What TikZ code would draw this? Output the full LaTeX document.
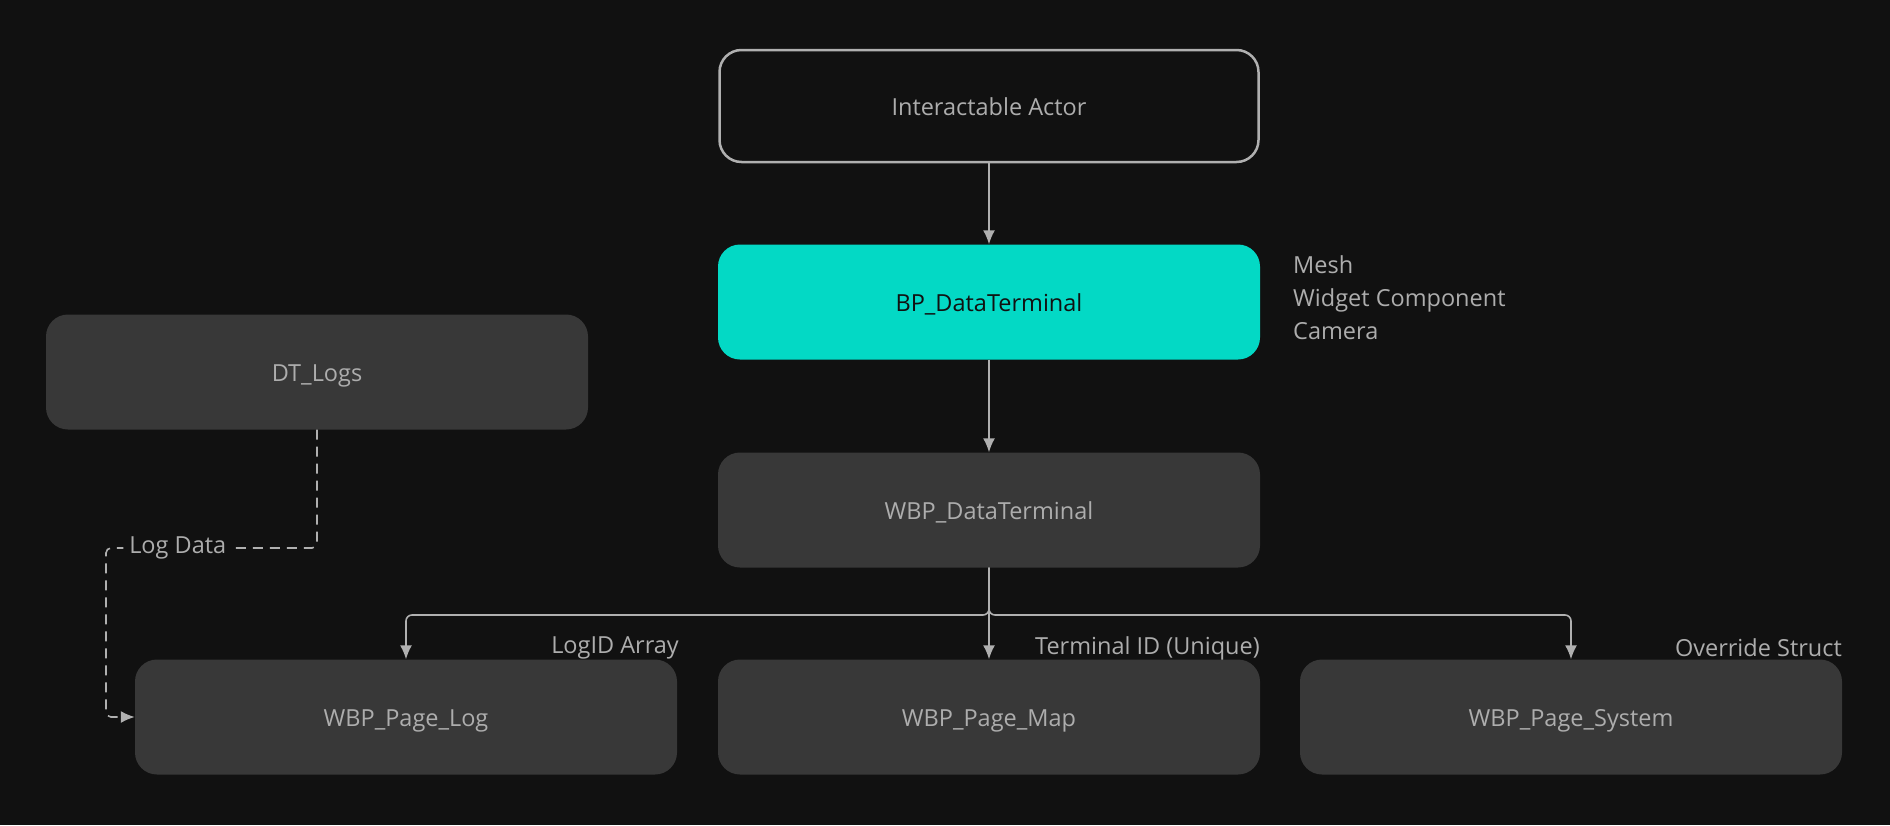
\documentclass[tikz,border=0pt]{standalone}
\usepackage{fontspec}
\setmainfont{Open Sans}
\usetikzlibrary{positioning, arrows.meta, calc}
\definecolor{Bg}{HTML}{111111}
\definecolor{Box}{HTML}{383838}
\definecolor{Txt}{HTML}{ADADAD}
\definecolor{Cyan}{HTML}{03D9C5}
\definecolor{Wire}{HTML}{B0B0B0}

\begin{document}
\begin{tikzpicture}[x=1pt, y=-1pt, font=\fontsize{23.5}{33}\selectfont]
      \tikzset{ blk/.style ={fill=Box,  rounded corners=22pt, minimum width=542pt, minimum height=115pt, text=Txt, text height=24pt, text depth=5pt } }
      \tikzset{ act/.style ={draw=Wire, rounded corners=22pt, minimum width=539pt, minimum height=112pt, text=Txt, text height=24pt, text depth=5pt, line width=2.5pt, fill=Bg} }
      \tikzset{ bpn/.style ={fill=Cyan, rounded corners=22pt, minimum width=542pt, minimum height=115pt, text=Bg,  text height=24pt, text depth=5pt } }
      \tikzset{ note/.style={text=Txt, inner sep=0pt                                                                                              } }
      \tikzset{ wire/.style={draw=Wire, line width=1.6pt, -{Latex[length=14pt, width=12pt]}                                                       } }

      \path[use as bounding box, fill=Bg] (0, 0) rectangle (1890, 825);

      \node[act] (actor)  at ( 989, 106) {Interactable Actor};
      \node[bpn] (bp)     at ( 989, 302) {BP\_DataTerminal};
      \node[blk] (dtlogs) at ( 317, 372) {DT\_Logs};
      \node[blk] (wbp)    at ( 989, 510) {WBP\_DataTerminal};
      \node[blk] (plog)   at ( 406, 717) {WBP\_Page\_Log};
      \node[blk] (pmap)   at ( 989, 717) {WBP\_Page\_Map};
      \node[blk] (psys)   at (1571, 717) {WBP\_Page\_System};

      \node[note, anchor=west, align=left] (comps) at (1293, 298) {Mesh\\Widget Component\\Camera};
      \node[note, anchor=east] (logid)  at ( 679, 648) {LogID Array};
      \node[note, anchor=east] (termid) at (1260, 648) {Terminal ID (Unique)};
      \node[note, anchor=east] (ovr)    at (1842, 648) {Override Struct};

      \coordinate (bus)    at (989, 615);
      \coordinate (ldturn) at (106, 548);

      \draw[wire] (actor) -- (bp);
      \draw[wire] (bp) -- (wbp);
      \draw[wire] (wbp) -- (pmap);
      \draw[wire, rounded corners=6pt] (wbp.south) -- (bus) -| (plog.north);
      \draw[wire, rounded corners=6pt] (wbp.south) -- (bus) -| (psys.north);

      \draw[wire, dash pattern=on 10pt off 7pt, rounded corners=5pt] (dtlogs.south) |- node[pos=0.83, fill=Bg, text=Txt, inner sep=6pt] (logdata) {Log Data} (ldturn) |- (plog.west);
    \end{tikzpicture}
\end{document}
